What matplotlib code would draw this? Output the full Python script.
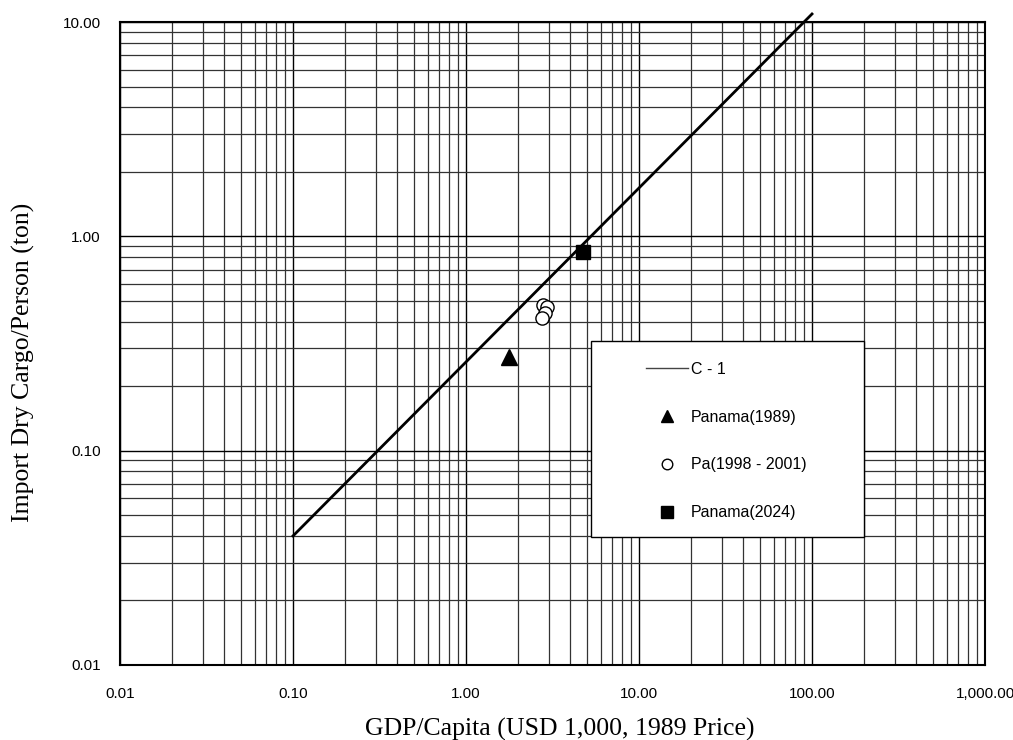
import numpy as np
import matplotlib
matplotlib.use('Agg')
import matplotlib.pyplot as plt
from matplotlib.patches import Rectangle
from matplotlib.ticker import LogLocator, FuncFormatter, NullFormatter

# C-1 regression line (end points)
line_x = [0.1, 100.0]
line_y = [0.04, 10.9]

# observed points
pan1989_x = [1.77]
pan1989_y = [0.273]
pa_x = [2.80, 2.92, 2.88, 2.74]
pa_y = [0.480, 0.470, 0.440, 0.418]
pan2024_x = [4.74]
pan2024_y = [0.845]

x_ticks = [0.01, 0.1, 1, 10, 100, 1000]
y_ticks = [0.01, 0.1, 1, 10]

fig = plt.figure(figsize=(10.13, 7.4), dpi=100)
ax = fig.add_axes([120/1013, 75/740, 865/1013, 643/740])

ax.set_xscale('log')
ax.set_yscale('log')
ax.set_xlim(0.01, 1000)
ax.set_ylim(0.01, 10)

ax.plot(line_x, line_y, color='black', lw=2.0, clip_on=False, zorder=3, label='C - 1')
ax.plot(pan1989_x, pan1989_y, ls='none', marker='^', ms=11, color='black', zorder=4, label='Panama(1989)')
ax.plot(pa_x, pa_y, ls='none', marker='o', ms=9.5, mfc='white', mec='black', mew=1.0, zorder=4,
        label='Pa(1998 - 2001)')
ax.plot(pan2024_x, pan2024_y, ls='none', marker='s', ms=10, color='black', zorder=4, label='Panama(2024)')

# grid at every decade and sub-decade
ax.xaxis.set_major_locator(LogLocator(base=10, numticks=10))
ax.yaxis.set_major_locator(LogLocator(base=10, numticks=10))
ax.xaxis.set_minor_locator(LogLocator(base=10, subs=np.arange(2, 10), numticks=20))
ax.yaxis.set_minor_locator(LogLocator(base=10, subs=np.arange(2, 10), numticks=20))
ax.xaxis.set_minor_formatter(NullFormatter())
ax.yaxis.set_minor_formatter(NullFormatter())
fmt = FuncFormatter(lambda v, p: '{:,.2f}'.format(v))
ax.xaxis.set_major_formatter(fmt)
ax.yaxis.set_major_formatter(fmt)
ax.set_xticks(x_ticks)
ax.set_yticks(y_ticks)
ax.grid(True, which='major', color='black', lw=1.0)
ax.grid(True, which='minor', color='#333333', lw=0.9)
ax.set_axisbelow(True)
ax.tick_params(which='both', length=0)
ax.tick_params(axis='x', pad=16)
ax.tick_params(axis='y', pad=14)
for lab in ax.get_xticklabels() + ax.get_yticklabels():
    lab.set_fontfamily('Liberation Sans')
    lab.set_fontsize(11)
for s in ax.spines.values():
    s.set_linewidth(1.5)
    s.set_color('black')

# legend box
box = Rectangle(((591-120)/865, (665-537)/643), 273/865, 196/643, transform=ax.transAxes,
                facecolor='white', edgecolor='black', lw=1.0, zorder=5)
ax.add_patch(box)
handles, labels = ax.get_legend_handles_labels()
leg = ax.legend(handles, labels, loc='upper left', bbox_to_anchor=((646-120)/865, (665-362)/643),
                frameon=False, borderpad=0, borderaxespad=0, handlelength=2.6, handletextpad=0.2,
                labelspacing=2.05, markerscale=0.8, prop={'family': 'Liberation Sans', 'size': 11.5})
leg.set_zorder(6)
leg.get_lines()[0].set_linewidth(1.0)
leg.get_lines()[0].set_color('#444444')

fig.text(560/1013, 1 - 729/740, 'GDP/Capita (USD 1,000, 1989 Price)', ha='center', va='center',
         family='Liberation Serif', fontsize=18.5)
fig.text(23/1013, 1 - 522/740, 'Import Dry Cargo/Person (ton)', ha='center', va='bottom',
         rotation=90, family='Liberation Serif', fontsize=18.5)

fig.savefig('out.png', dpi=100)
